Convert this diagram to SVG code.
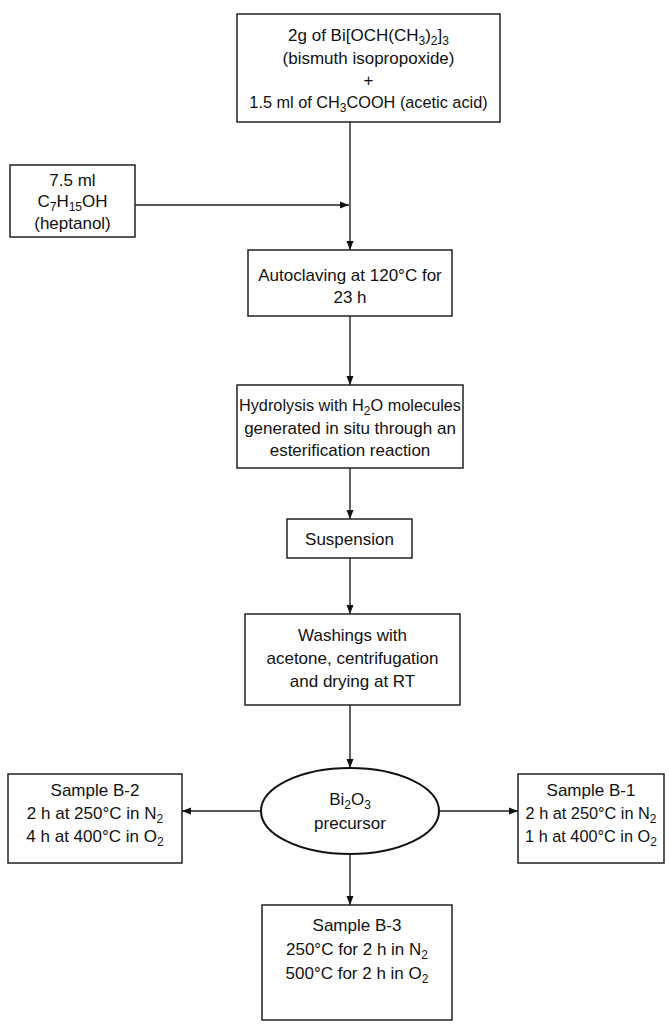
<svg xmlns="http://www.w3.org/2000/svg" width="669" height="1030" viewBox="0 0 669 1030">
<style>
.box{fill:#fff;stroke:#222;stroke-width:1.5}
.ell{fill:#fff;stroke:#111;stroke-width:2}
.t{font-family:"Liberation Sans",Arial,sans-serif;font-size:17px;fill:#111;text-anchor:middle}
.n{font-size:16.3px}
.s{font-size:12px}
.ln{fill:none;stroke:#222;stroke-width:1.4}
</style>
<defs>
<marker id="ah" markerWidth="10" markerHeight="8" refX="9" refY="4" orient="auto" markerUnits="userSpaceOnUse">
<path d="M0,0.5 L9,4 L0,7.5 Z" fill="#111"/>
</marker>
</defs>
<rect width="669" height="1030" fill="#fff"/>
<g id="connectors">
<line class="ln" x1="350" y1="122" x2="350" y2="250" marker-end="url(#ah)"/>
<line class="ln" x1="135" y1="205" x2="349" y2="205" marker-end="url(#ah)"/>
<line class="ln" x1="350" y1="316" x2="350" y2="385" marker-end="url(#ah)"/>
<line class="ln" x1="350" y1="468" x2="350" y2="519" marker-end="url(#ah)"/>
<line class="ln" x1="350" y1="558" x2="350" y2="614" marker-end="url(#ah)"/>
<line class="ln" x1="350" y1="705" x2="350" y2="768" marker-end="url(#ah)"/>
<line class="ln" x1="261" y1="811" x2="182" y2="811" marker-end="url(#ah)"/>
<line class="ln" x1="439" y1="811" x2="518" y2="811" marker-end="url(#ah)"/>
<line class="ln" x1="350" y1="854" x2="350" y2="905" marker-end="url(#ah)"/>
</g>
<g id="n-start">
<rect class="box" x="237" y="14" width="263" height="108"/>
<text class="t" x="368.5" y="41">2g of Bi[OCH(CH<tspan class="s" dy="4">3</tspan><tspan dy="-4">)</tspan><tspan class="s" dy="4">2</tspan><tspan dy="-4">]</tspan><tspan class="s" dy="4">3</tspan></text>
<text class="t" x="368.5" y="64">(bismuth isopropoxide)</text>
<text class="t" x="368.5" y="86">+</text>
<text class="t n" x="368.5" y="108">1.5 ml of CH<tspan class="s" dy="4">3</tspan><tspan dy="-4">COOH (acetic acid)</tspan></text>
</g>
<g id="n-heptanol">
<rect class="box" x="10" y="165" width="125" height="72"/>
<text class="t" x="72.5" y="186">7.5 ml</text>
<text class="t" x="72.5" y="207">C<tspan class="s" dy="4">7</tspan><tspan dy="-4">H</tspan><tspan class="s" dy="4">15</tspan><tspan dy="-4">OH</tspan></text>
<text class="t" x="72.5" y="229">(heptanol)</text>
</g>
<g id="n-autoclave">
<rect class="box" x="248" y="250" width="204" height="66"/>
<text class="t" x="350" y="281">Autoclaving at 120°C for</text>
<text class="t" x="350" y="303">23 h</text>
</g>
<g id="n-hydrolysis">
<rect class="box" x="237" y="385" width="226" height="83"/>
<text class="t n" x="350" y="411">Hydrolysis with H<tspan class="s" dy="4">2</tspan><tspan dy="-4">O molecules</tspan></text>
<text class="t" x="350" y="434">generated in situ through an</text>
<text class="t" x="350" y="456">esterification reaction</text>
</g>
<g id="n-suspension">
<rect class="box" x="287" y="519" width="125" height="39"/>
<text class="t" x="349.5" y="545">Suspension</text>
</g>
<g id="n-washings">
<rect class="box" x="245" y="614" width="215" height="91"/>
<text class="t" x="352.5" y="641">Washings with</text>
<text class="t" x="352.5" y="664">acetone, centrifugation</text>
<text class="t" x="352.5" y="687">and drying at RT</text>
</g>
<g id="n-precursor">
<ellipse class="ell" cx="350" cy="811" rx="89" ry="43"/>
<text class="t" x="350" y="805">Bi<tspan class="s" dy="4">2</tspan><tspan dy="-4">O</tspan><tspan class="s" dy="4">3</tspan></text>
<text class="t" x="350" y="829">precursor</text>
</g>
<g id="n-b2">
<rect class="box" x="8" y="774" width="174" height="89"/>
<text class="t" x="95" y="796">Sample B-2</text>
<text class="t" x="95" y="819">2 h at 250°C in N<tspan class="s" dy="4">2</tspan></text>
<text class="t" x="95" y="842">4 h at 400°C in O<tspan class="s" dy="4">2</tspan></text>
</g>
<g id="n-b1">
<rect class="box" x="518" y="774" width="146" height="89"/>
<text class="t" x="591" y="796">Sample B-1</text>
<text class="t n" x="591" y="819">2 h at 250°C in N<tspan class="s" dy="4">2</tspan></text>
<text class="t n" x="591" y="842">1 h at 400°C in O<tspan class="s" dy="4">2</tspan></text>
</g>
<g id="n-b3">
<rect class="box" x="262" y="905" width="190" height="115"/>
<text class="t" x="357" y="931">Sample B-3</text>
<text class="t" x="357" y="955">250°C for 2 h in N<tspan class="s" dy="4">2</tspan></text>
<text class="t" x="357" y="979">500°C for 2 h in O<tspan class="s" dy="4">2</tspan></text>
</g>
</svg>
